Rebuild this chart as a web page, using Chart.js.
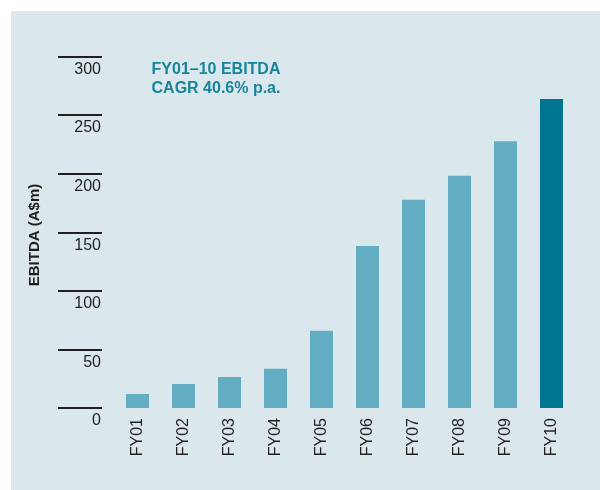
<!DOCTYPE html>
<html>
<head>
<meta charset="utf-8">
<script src="https://cdn.jsdelivr.net/npm/chart.js"></script>
<style>
  html, body { margin: 0; padding: 0; background: #fff; }
  #wrap { width: 600px; height: 490px; }
</style>
</head>
<body>
<div id="wrap"><canvas id="ebitdaChart" width="600" height="490"></canvas></div>
<script>
const years = ['FY01', 'FY02', 'FY03', 'FY04', 'FY05', 'FY06', 'FY07', 'FY08', 'FY09', 'FY10'];
const ebitda = [12, 20.5, 26.5, 33.5, 66, 138.5, 178, 198.5, 228, 264];
const yTicks = [0, 50, 100, 150, 200, 250, 300];
const noteLines = ['FY01\u201310 EBITDA', 'CAGR 40.6% p.a.'];
const yTitle = 'EBITDA (A$m)';

const PANEL = '#dae8ee';
const BAR = '#62adc1';
const BAR_LAST = '#00758f';
const INK = '#231f20';
const NOTE = '#18849a';
const FONT = '"Liberation Sans", Arial, sans-serif';

const barColors = years.map((y, i) => (i === years.length - 1 ? BAR_LAST : BAR));

// panel background, y tick marks/labels, y title and the CAGR note
const decor = {
  id: 'decor',
  beforeDraw(chart) {
    const ctx = chart.ctx;
    ctx.save();
    ctx.fillStyle = PANEL;
    ctx.fillRect(11, 11, chart.width - 11, chart.height - 11);
    ctx.restore();
  },
  afterDraw(chart) {
    const ctx = chart.ctx;
    const y = chart.scales.y;
    ctx.save();
    ctx.strokeStyle = INK;
    ctx.lineWidth = 2;
    ctx.fillStyle = INK;
    ctx.font = '16px ' + FONT;
    ctx.textAlign = 'right';
    ctx.textBaseline = 'middle';
    yTicks.forEach((v) => {
      const py = Math.round(y.getPixelForValue(v));
      ctx.beginPath();
      ctx.moveTo(58, py);
      ctx.lineTo(102, py);
      ctx.stroke();
      ctx.fillText(String(v), 101, py + 13);
    });

    // axis title
    ctx.font = 'bold 15px ' + FONT;
    ctx.textAlign = 'center';
    ctx.translate(34.5, 235);
    ctx.rotate(-Math.PI / 2);
    ctx.fillText(yTitle, 0, 0);
    ctx.restore();

    ctx.save();
    ctx.fillStyle = NOTE;
    ctx.font = 'bold 16px ' + FONT;
    ctx.textAlign = 'center';
    ctx.textBaseline = 'alphabetic';
    noteLines.forEach((t, i) => ctx.fillText(t, 216, 74 + i * 18.5));
    ctx.restore();
  },
};

new Chart(document.getElementById('ebitdaChart'), {
  type: 'bar',
  data: {
    labels: years,
    datasets: [
      {
        label: 'EBITDA',
        data: ebitda,
        backgroundColor: barColors,
        borderWidth: 0,
        categoryPercentage: 1,
        barPercentage: 0.5,
      },
    ],
  },
  options: {
    responsive: false,
    animation: false,
    layout: {
      padding: { left: 114.5, right: 25.5, top: 57, bottom: 0 },
    },
    plugins: {
      legend: { display: false },
      tooltip: { enabled: false },
    },
    scales: {
      x: {
        grid: { display: false, drawTicks: false },
        border: { display: false },
        afterFit: (scale) => {
          scale.height = 82;
        },
        ticks: {
          autoSkip: false,
          minRotation: 90,
          maxRotation: 90,
          padding: 10,
          color: INK,
          font: { family: FONT, size: 16 },
        },
      },
      y: {
        display: false,
        min: 0,
        max: 300,
      },
    },
  },
  plugins: [decor],
});
</script>
</body>
</html>
